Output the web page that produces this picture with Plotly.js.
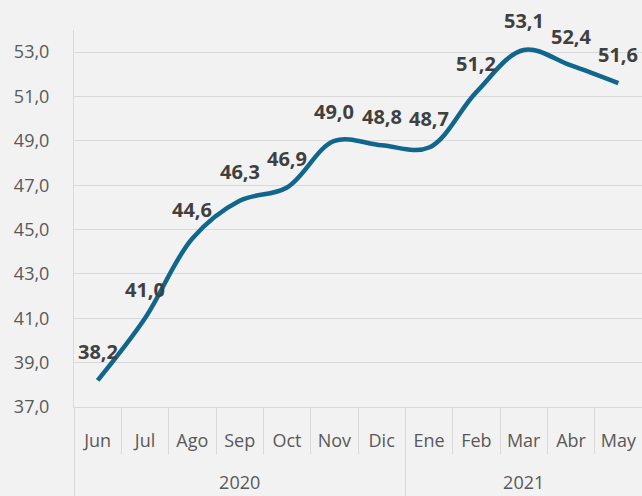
<!DOCTYPE html>
<html>
<head>
<meta charset="utf-8">
<script src="https://cdn.plot.ly/plotly-3.0.1.min.js"></script>
<style>
html,body{margin:0;padding:0;background:#F2F2F2;}
#chart{width:642px;height:496px;}
</style>
</head>
<body>
<div id="chart"></div>
<script>
var years = ["2020","2020","2020","2020","2020","2020","2020","2021","2021","2021","2021","2021"];
var months = ["Jun","Jul","Ago","Sep","Oct","Nov","Dic","Ene","Feb","Mar","Abr","May"];
var values = [38.2, 41.0, 44.6, 46.3, 46.9, 49.0, 48.8, 48.7, 51.2, 53.1, 52.4, 51.6];

function fmt(v){ return v.toFixed(1).replace('.', ','); }

// year groups derived from the years array
var yearNames = [], yearCenters = [], yearBounds = [-0.5];
years.forEach(function(y, i){
  if (yearNames.indexOf(y) === -1) yearNames.push(y);
});
yearNames.forEach(function(y){
  var first = years.indexOf(y), last = years.lastIndexOf(y);
  yearCenters.push((first + last) / 2);
  yearBounds.push(last + 0.5);
});
var idx = values.map(function(v, i){ return i; });

var lineTrace = {
  x: months,
  y: values,
  type: 'scatter',
  mode: 'lines',
  line: {color: '#10668B', width: 4.5, shape: 'spline', smoothing: 1},
  hoverinfo: 'skip',
  cliponaxis: false
};

var tickTrace = {
  x: months, y: values, xaxis: 'x2', type: 'scatter', mode: 'lines',
  line: {width: 0}, opacity: 0, hoverinfo: 'skip', showlegend: false
};
var yearTrace = {
  x: idx, y: values, xaxis: 'x3', type: 'scatter', mode: 'lines',
  line: {width: 0}, opacity: 0, hoverinfo: 'skip', showlegend: false
};

var annotations = values.map(function(v, i){
  return {
    x: months[i], y: v, xref: 'x', yref: 'y',
    text: fmt(v),
    showarrow: false,
    yshift: 29,
    font: {family: 'Open Sans, sans-serif', size: 20, color: '#404040', weight: 'bold'}
  };
});

var tf = {family: 'Open Sans, sans-serif', size: 18, color: '#595959'};

var layout = {
  width: 642, height: 496,
  margin: {l: 74, r: 0, t: 30, b: 89},
  paper_bgcolor: '#F2F2F2',
  plot_bgcolor: '#F2F2F2',
  showlegend: false,
  separators: ',.',
  font: tf,
  xaxis: {
    type: 'category',
    range: [-0.5, 11.5],
    showgrid: false,
    showline: true,
    linecolor: '#D9D9D9',
    linewidth: 1,
    ticks: '',
    ticklabelstandoff: 17,
    tickfont: tf,
    zeroline: false,
    fixedrange: true
  },
  xaxis2: {
    type: 'category',
    overlaying: 'x',
    anchor: 'y',
    side: 'bottom',
    range: [-0.5, 11.5],
    showgrid: false,
    showline: false,
    showticklabels: false,
    ticks: 'outside',
    tickson: 'boundaries',
    ticklen: 46,
    tickcolor: '#D9D9D9',
    tickwidth: 1,
    zeroline: false,
    fixedrange: true
  },
  xaxis3: {
    type: 'linear',
    overlaying: 'x',
    anchor: 'y',
    side: 'bottom',
    range: [-0.5, 11.5],
    showgrid: false,
    showline: false,
    tickmode: 'array',
    tickvals: yearCenters,
    ticktext: yearNames,
    ticks: '',
    ticklabelstandoff: 63,
    tickfont: tf,
    minor: {
      tickmode: 'array',
      tickvals: yearBounds,
      ticks: 'outside',
      ticklen: 89,
      tickcolor: '#D9D9D9',
      tickwidth: 1,
      showgrid: false
    },
    zeroline: false,
    fixedrange: true
  },
  yaxis: {
    range: [37, 54],
    tick0: 37,
    dtick: 2,
    tickformat: '.1f',
    showgrid: true,
    gridcolor: '#D9D9D9',
    gridwidth: 1,
    showline: true,
    linecolor: '#D9D9D9',
    linewidth: 1,
    zeroline: false,
    ticks: '',
    ticklabelstandoff: 20,
    tickfont: tf,
    fixedrange: true
  },
  annotations: annotations
};

Plotly.newPlot('chart', [tickTrace, yearTrace, lineTrace], layout, {displayModeBar: false, staticPlot: true});
</script>
</body>
</html>
